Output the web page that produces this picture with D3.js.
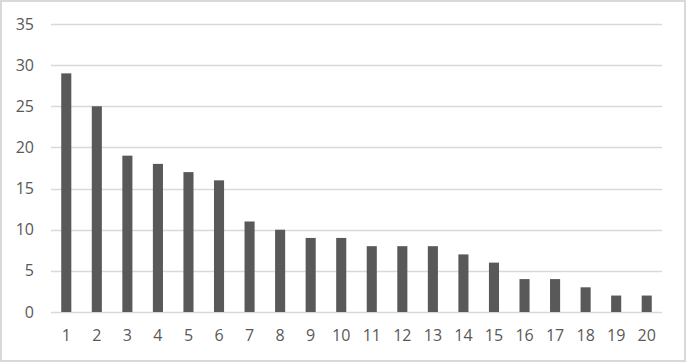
<!DOCTYPE html>
<html>
<head>
<meta charset="utf-8">
<script src="https://cdn.jsdelivr.net/npm/d3@7"></script>
<style>
  body { margin: 0; background: #fff; }
  text { font-family: "Open Sans", sans-serif; }
</style>
</head>
<body>
<div id="chart"></div>
<script>
"use strict";

// data
var categories = ["1","2","3","4","5","6","7","8","9","10","11","12","13","14","15","16","17","18","19","20"];
var values = [29, 25, 19, 18, 17, 16, 11, 10, 9, 9, 8, 8, 8, 7, 6, 4, 4, 3, 2, 2];
var yTicks = [0, 5, 10, 15, 20, 25, 30, 35];

var W = 686, H = 362;
var margin = {top: 24, right: 24, bottom: 50, left: 51};
var width = W - margin.left - margin.right,
    height = H - margin.top - margin.bottom;

var svg = d3.select("#chart")
  .append("svg")
    .attr("width", W)
    .attr("height", H);

// chart border
svg.append("rect")
  .attr("x", 1).attr("y", 1)
  .attr("width", W - 2).attr("height", H - 2)
  .attr("fill", "#fff")
  .attr("stroke", "#d9d9d9")
  .attr("stroke-width", 2);

var g = svg.append("g")
  .attr("transform", "translate(" + margin.left + "," + margin.top + ")");

var x = d3.scaleBand()
  .domain(categories)
  .range([0, width])
  .paddingInner(0.67)
  .paddingOuter(0.335);

var y = d3.scaleLinear()
  .domain([0, 35])
  .range([height, 0]);

// gridlines
g.append("g")
  .selectAll("line")
  .data(yTicks)
  .join("line")
    .attr("x1", 0)
    .attr("x2", width)
    .attr("y1", d => Math.round(y(d)) + 0.5)
    .attr("y2", d => Math.round(y(d)) + 0.5)
    .attr("stroke", "#d9d9d9")
    .attr("stroke-width", 1.3);

// bars
g.append("g")
  .selectAll("rect")
  .data(values)
  .join("rect")
    .attr("x", (d, i) => x(categories[i]))
    .attr("y", d => y(d))
    .attr("width", x.bandwidth())
    .attr("height", d => height - y(d))
    .attr("fill", "#595959");

// y axis labels
var yAxis = g.append("g")
  .call(d3.axisLeft(y).tickValues(yTicks).tickSize(0).tickPadding(17));
yAxis.select(".domain").remove();
yAxis.selectAll("text")
  .attr("fill", "#595959")
  .style("font-size", "16px")
  .style("font-family", "'Open Sans', sans-serif");

// x axis labels
var xAxis = g.append("g")
  .attr("transform", "translate(0," + height + ")")
  .call(d3.axisBottom(x).tickSize(0).tickPadding(18));
xAxis.select(".domain").remove();
xAxis.selectAll("text")
  .attr("fill", "#595959")
  .style("font-size", "16px")
  .style("font-family", "'Open Sans', sans-serif");
</script>
</body>
</html>
